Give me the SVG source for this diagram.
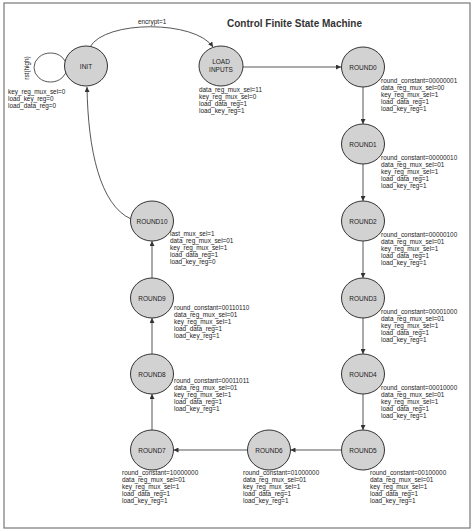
<svg xmlns="http://www.w3.org/2000/svg" width="474" height="531" viewBox="0 0 474 531">
<defs>
<marker id="arr" viewBox="0 0 10 10" refX="10" refY="5" markerWidth="5" markerHeight="5" markerUnits="userSpaceOnUse" orient="auto">
<path d="M0,0 L10,5 L0,10 z" fill="#333"/>
</marker>
</defs>
<style>
.bg{fill:#fff}
.frame{fill:none;stroke:#777;stroke-width:1.2}
.node ellipse{fill:#d2d2d2;stroke:#333;stroke-width:1}
.node text{font-family:"Liberation Sans",Arial,sans-serif;font-size:6.5px;fill:#222;text-anchor:middle}
.lbl{font-family:"Liberation Sans",Arial,sans-serif;font-size:6.4px;fill:#222}
.edge{fill:none;stroke:#444;stroke-width:0.9}
.title{font-family:"Liberation Sans",Arial,sans-serif;font-size:10px;font-weight:bold;fill:#333}
</style>
<rect class="bg" x="0" y="0" width="474" height="531"/>
<rect class="frame" x="4" y="3" width="466" height="525"/>
<text class="title" x="227" y="27">Control Finite State Machine</text>

<g id="connectors">
<ellipse class="edge" cx="50.5" cy="67.5" rx="16.5" ry="14.5"/>
<path class="edge" d="M90,47 C105,20 195,20 213,47" marker-end="url(#arr)"/>
<path class="edge" d="M243,67 L341,67" marker-end="url(#arr)"/>
<path class="edge" d="M363,87 L363,124" marker-end="url(#arr)"/>
<path class="edge" d="M363,164 L363,201" marker-end="url(#arr)"/>
<path class="edge" d="M363,241 L363,278" marker-end="url(#arr)"/>
<path class="edge" d="M363,318 L363,354" marker-end="url(#arr)"/>
<path class="edge" d="M363,394 L363,430" marker-end="url(#arr)"/>
<path class="edge" d="M341.5,450 L290.5,450" marker-end="url(#arr)"/>
<path class="edge" d="M247.5,450 L173.5,450" marker-end="url(#arr)"/>
<path class="edge" d="M152,430 L152,394" marker-end="url(#arr)"/>
<path class="edge" d="M152,354 L152,318" marker-end="url(#arr)"/>
<path class="edge" d="M152,278 L152,241" marker-end="url(#arr)"/>
<path class="edge" d="M131,219 C100,205 88,150 87,87" marker-end="url(#arr)"/>
<text class="lbl" x="138" y="24">encrypt=1</text>
<text class="lbl" transform="translate(29,68) rotate(-90)" text-anchor="middle">rst(high)</text>
</g>

<g id="INIT" class="node"><ellipse cx="86" cy="66" rx="21.5" ry="20"/><text x="86" y="68.5">INIT</text></g>
<g id="LOAD_INPUTS" class="node"><ellipse cx="221" cy="66" rx="22" ry="20"/><text x="221" y="64">LOAD</text><text x="221" y="72">INPUTS</text></g>
<g id="ROUND0" class="node"><ellipse cx="363" cy="67" rx="21.5" ry="20"/><text x="363" y="69.5">ROUND0</text></g>
<g id="ROUND1" class="node"><ellipse cx="363" cy="144" rx="21.5" ry="20"/><text x="363" y="146.5">ROUND1</text></g>
<g id="ROUND2" class="node"><ellipse cx="363" cy="221" rx="21.5" ry="20"/><text x="363" y="223.5">ROUND2</text></g>
<g id="ROUND3" class="node"><ellipse cx="363" cy="298" rx="21.5" ry="20"/><text x="363" y="300.5">ROUND3</text></g>
<g id="ROUND4" class="node"><ellipse cx="363" cy="374" rx="21.5" ry="20"/><text x="363" y="376.5">ROUND4</text></g>
<g id="ROUND5" class="node"><ellipse cx="363" cy="450" rx="21.5" ry="20"/><text x="363" y="452.5">ROUND5</text></g>
<g id="ROUND6" class="node"><ellipse cx="269" cy="450" rx="21.5" ry="20"/><text x="269" y="452.5">ROUND6</text></g>
<g id="ROUND7" class="node"><ellipse cx="152" cy="450" rx="21.5" ry="20"/><text x="152" y="452.5">ROUND7</text></g>
<g id="ROUND8" class="node"><ellipse cx="152" cy="374" rx="21.5" ry="20"/><text x="152" y="376.5">ROUND8</text></g>
<g id="ROUND9" class="node"><ellipse cx="152" cy="298" rx="21.5" ry="20"/><text x="152" y="300.5">ROUND9</text></g>
<g id="ROUND10" class="node"><ellipse cx="152" cy="221" rx="21.5" ry="20"/><text x="152" y="223.5">ROUND10</text></g>

<g id="labels">
<text class="lbl" x="8" y="94">key_reg_mux_sel=0</text>
<text class="lbl" x="8" y="101">load_key_reg=0</text>
<text class="lbl" x="8" y="108">load_data_reg=0</text>

<text class="lbl" x="199" y="92">data_reg_mux_sel=11</text>
<text class="lbl" x="199" y="99">key_reg_mux_sel=0</text>
<text class="lbl" x="199" y="106">load_data_reg=1</text>
<text class="lbl" x="199" y="113">load_key_reg=1</text>

<text class="lbl" x="381" y="83">round_constant=00000001</text>
<text class="lbl" x="381" y="90">data_reg_mux_sel=00</text>
<text class="lbl" x="381" y="97">key_reg_mux_sel=1</text>
<text class="lbl" x="381" y="104">load_data_reg=1</text>
<text class="lbl" x="381" y="111">load_key_reg=1</text>

<text class="lbl" x="381" y="160">round_constant=00000010</text>
<text class="lbl" x="381" y="167">data_reg_mux_sel=01</text>
<text class="lbl" x="381" y="174">key_reg_mux_sel=1</text>
<text class="lbl" x="381" y="181">load_data_reg=1</text>
<text class="lbl" x="381" y="188">load_key_reg=1</text>

<text class="lbl" x="381" y="237">round_constant=00000100</text>
<text class="lbl" x="381" y="244">data_reg_mux_sel=01</text>
<text class="lbl" x="381" y="251">key_reg_mux_sel=1</text>
<text class="lbl" x="381" y="258">load_data_reg=1</text>
<text class="lbl" x="381" y="265">load_key_reg=1</text>

<text class="lbl" x="381" y="314">round_constant=00001000</text>
<text class="lbl" x="381" y="321">data_reg_mux_sel=01</text>
<text class="lbl" x="381" y="328">key_reg_mux_sel=1</text>
<text class="lbl" x="381" y="335">load_data_reg=1</text>
<text class="lbl" x="381" y="342">load_key_reg=1</text>

<text class="lbl" x="381" y="390">round_constant=00010000</text>
<text class="lbl" x="381" y="397">data_reg_mux_sel=01</text>
<text class="lbl" x="381" y="404">key_reg_mux_sel=1</text>
<text class="lbl" x="381" y="411">load_data_reg=1</text>
<text class="lbl" x="381" y="418">load_key_reg=1</text>

<text class="lbl" x="370" y="475">round_constant=00100000</text>
<text class="lbl" x="370" y="482">data_reg_mux_sel=01</text>
<text class="lbl" x="370" y="489">key_reg_mux_sel=1</text>
<text class="lbl" x="370" y="496">load_data_reg=1</text>
<text class="lbl" x="370" y="503">load_key_reg=1</text>

<text class="lbl" x="243" y="475">round_constant=01000000</text>
<text class="lbl" x="243" y="482">data_reg_mux_sel=01</text>
<text class="lbl" x="243" y="489">key_reg_mux_sel=1</text>
<text class="lbl" x="243" y="496">load_data_reg=1</text>
<text class="lbl" x="243" y="503">load_key_reg=1</text>

<text class="lbl" x="122" y="475">round_constant=10000000</text>
<text class="lbl" x="122" y="482">data_reg_mux_sel=01</text>
<text class="lbl" x="122" y="489">key_reg_mux_sel=1</text>
<text class="lbl" x="122" y="496">load_data_reg=1</text>
<text class="lbl" x="122" y="503">load_key_reg=1</text>

<text class="lbl" x="174" y="383">round_constant=00011011</text>
<text class="lbl" x="174" y="390">data_reg_mux_sel=01</text>
<text class="lbl" x="174" y="397">key_reg_mux_sel=1</text>
<text class="lbl" x="174" y="404">load_data_reg=1</text>
<text class="lbl" x="174" y="411">load_key_reg=1</text>

<text class="lbl" x="174" y="310">round_constant=00110110</text>
<text class="lbl" x="174" y="317">data_reg_mux_sel=01</text>
<text class="lbl" x="174" y="324">key_reg_mux_sel=1</text>
<text class="lbl" x="174" y="331">load_data_reg=1</text>
<text class="lbl" x="174" y="338">load_key_reg=1</text>

<text class="lbl" x="170" y="236">last_mux_sel=1</text>
<text class="lbl" x="170" y="243">data_reg_mux_sel=01</text>
<text class="lbl" x="170" y="250">key_reg_mux_sel=1</text>
<text class="lbl" x="170" y="257">load_data_reg=1</text>
<text class="lbl" x="170" y="264">load_key_reg=0</text>
</g>
</svg>
